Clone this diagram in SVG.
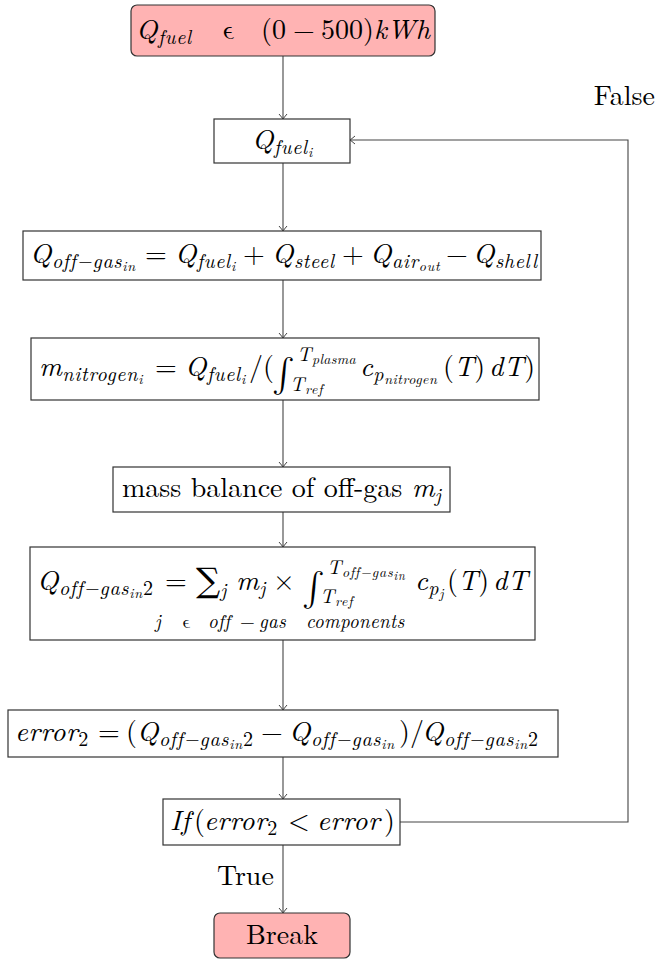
<svg xmlns="http://www.w3.org/2000/svg" width="658" height="959" viewBox="0 0 658 959" font-family="'Latin Modern Roman','DejaVu Serif',serif">
<style>
.box{fill:#fff;stroke:#333;stroke-width:1.2}
.term{fill:#ffb3b3;stroke:#333;stroke-width:1.2}
.m,.t,.c{font-family:'Latin Modern Roman','DejaVu Serif',serif;fill:#000}
.m{font-style:italic;font-size:28px;letter-spacing:0.4px}
.t{font-size:28px}
.r{font-style:normal;letter-spacing:0}
.s{font-size:20px;letter-spacing:0.7px}
.ss{font-size:14px;letter-spacing:0.8px}
.big{font-family:'Latin Modern Math','DejaVu Sans',sans-serif;font-style:normal;letter-spacing:0;font-size:34px}
.eps{font-family:'Latin Modern Math','DejaVu Sans',sans-serif;font-style:normal;letter-spacing:0}
.c{font-style:italic;font-size:19px;letter-spacing:0.3px}
.edge{fill:none;stroke:#444;stroke-width:1.1;marker-end:url(#arr)}
</style>
<defs>
<marker id="arr" viewBox="-6 -5 8 10" refX="0" refY="0" markerWidth="8" markerHeight="10" orient="auto" markerUnits="userSpaceOnUse">
<path d="M-5,-4 Q-1.5,-1 0,0 Q-1.5,1 -5,4" fill="none" stroke="#444" stroke-width="1"/>
</marker>
</defs>
<g id="connectors">
<path class="edge" d="M283,56 V119"/>
<path class="edge" d="M283,163 V231"/>
<path class="edge" d="M283,280 V338"/>
<path class="edge" d="M283,400 V467"/>
<path class="edge" d="M283,512 V547"/>
<path class="edge" d="M283,640 V710"/>
<path class="edge" d="M283,757 V799"/>
<path class="edge" d="M283,845 V913"/>
<path class="edge" d="M400,822 H628 V140 H350"/>
<text class="t" x="655" y="105" text-anchor="end">False</text>
<text class="t" x="217" y="885">True</text>
</g>
<g id="start">
<rect class="term" x="131" y="5" width="304" height="51" rx="6"/>
<text class="m" y="39"><tspan x="136">Q</tspan><tspan class="s" y="44">fuel</tspan><tspan class="eps" x="222" y="39">ϵ</tspan><tspan class="r" x="261">(0</tspan><tspan class="r" x="293">−</tspan><tspan class="r" x="321">500)</tspan><tspan x="374">kWh</tspan></text>
</g>
<g id="qfuel">
<rect class="box" x="214" y="119" width="136" height="44"/>
<text class="m" y="149"><tspan x="252">Q</tspan><tspan class="s" y="154">fuel</tspan><tspan class="ss" y="157">i</tspan></text>
</g>
<g id="qoffgas">
<rect class="box" x="23" y="231" width="518" height="49"/>
<text class="m" y="263"><tspan x="30">Q</tspan><tspan class="s" y="268">off−gas</tspan><tspan class="ss" y="271">in</tspan><tspan class="r" x="145" y="263">=</tspan><tspan x="175">Q</tspan><tspan class="s" y="268">fuel</tspan><tspan class="ss" y="271">i</tspan><tspan class="r" x="243" y="263">+</tspan><tspan x="272">Q</tspan><tspan class="s" y="268">steel</tspan><tspan class="r" x="342" y="263">+</tspan><tspan x="370">Q</tspan><tspan class="s" y="268">air</tspan><tspan class="ss" y="271">out</tspan><tspan class="r" x="446" y="263">−</tspan><tspan x="473">Q</tspan><tspan class="s" y="268">shell</tspan></text>
</g>
<g id="nitrogen">
<rect class="box" x="31" y="338" width="508" height="62"/>
<text class="m" y="376"><tspan x="39">m</tspan><tspan class="s" y="381">nitrogen</tspan><tspan class="ss" y="384">i</tspan><tspan class="r" x="155" y="376">=</tspan><tspan x="185">Q</tspan><tspan class="s" y="381">fuel</tspan><tspan class="ss" y="384">i</tspan><tspan class="r" x="249" y="376">/(</tspan><tspan class="big" x="272" y="384">∫</tspan><tspan class="s" x="297" y="361">T</tspan><tspan class="ss" y="364" style="letter-spacing:0.3px">plasma</tspan><tspan class="s" x="290" y="391">T</tspan><tspan class="ss" y="394">ref</tspan><tspan x="360" y="376">c</tspan><tspan class="s" y="381">p</tspan><tspan class="ss" y="384" style="letter-spacing:0.5px">nitrogen</tspan><tspan class="r" x="443" y="376">(</tspan><tspan>T</tspan><tspan class="r">)</tspan><tspan x="489">dT</tspan><tspan class="r">)</tspan></text>
</g>
<g id="massbalance">
<rect class="box" x="113" y="467" width="337" height="45"/>
<text class="t" x="122" y="497">mass balance of off-gas <tspan class="m" style="letter-spacing:0">m</tspan><tspan class="m s" y="502" style="letter-spacing:0">j</tspan></text>
</g>
<g id="qoffgas2">
<rect class="box" x="30" y="547" width="505" height="93"/>
<text class="m" y="590"><tspan x="37">Q</tspan><tspan class="s" y="595">off−gas</tspan><tspan class="ss" y="598">in</tspan><tspan class="s r" y="595">2</tspan><tspan class="r" x="165" y="590">=</tspan><tspan class="r" x="196" y="592" style="font-size:34px">∑</tspan><tspan class="s" y="597">j</tspan><tspan x="236" y="590">m</tspan><tspan class="s" y="595">j</tspan><tspan class="r" x="273" y="590">×</tspan><tspan class="big" x="302" y="598">∫</tspan><tspan class="s" x="327" y="574">T</tspan><tspan class="ss" y="577">off−gas</tspan><tspan class="ss" y="580" style="font-size:12px">in</tspan><tspan class="s" x="320" y="603">T</tspan><tspan class="ss" y="606">ref</tspan><tspan x="415" y="590">c</tspan><tspan class="s" y="595">p</tspan><tspan class="ss" y="598">j</tspan><tspan class="r" x="447" y="590">(</tspan><tspan>T</tspan><tspan class="r">)</tspan><tspan x="493">dT</tspan></text>
<text class="c" y="628"><tspan x="155">j</tspan><tspan class="eps" x="182">ϵ</tspan><tspan x="208">off</tspan><tspan class="r" x="240">−</tspan><tspan x="259">gas</tspan><tspan x="306">components</tspan></text>
</g>
<g id="error">
<rect class="box" x="8" y="710" width="550" height="47"/>
<text class="m" y="741"><tspan x="15">error</tspan><tspan class="s r" y="746">2</tspan><tspan class="r" x="98" y="741">=</tspan><tspan class="r" x="126">(</tspan><tspan x="137">Q</tspan><tspan class="s" y="746">off−gas</tspan><tspan class="ss" y="749">in</tspan><tspan class="s r" y="746">2</tspan><tspan class="r" x="261" y="741">−</tspan><tspan x="289">Q</tspan><tspan class="s" y="746">off−gas</tspan><tspan class="ss" y="749">in</tspan><tspan class="r" x="399" y="741">)/</tspan><tspan x="422">Q</tspan><tspan class="s" y="746">off−gas</tspan><tspan class="ss" y="749">in</tspan><tspan class="s r" y="746">2</tspan></text>
</g>
<g id="condition">
<rect class="box" x="163" y="799" width="237" height="46"/>
<text class="m" y="830"><tspan x="170">If</tspan><tspan class="r" x="194">(</tspan><tspan x="204">error</tspan><tspan class="s r" y="835">2</tspan><tspan class="r" x="288" y="830">&lt;</tspan><tspan x="317">error</tspan><tspan class="r" x="384">)</tspan></text>
</g>
<g id="break">
<rect class="term" x="214" y="913" width="136" height="45" rx="6"/>
<text class="t" x="282" y="944" text-anchor="middle">Break</text>
</g>
</svg>
